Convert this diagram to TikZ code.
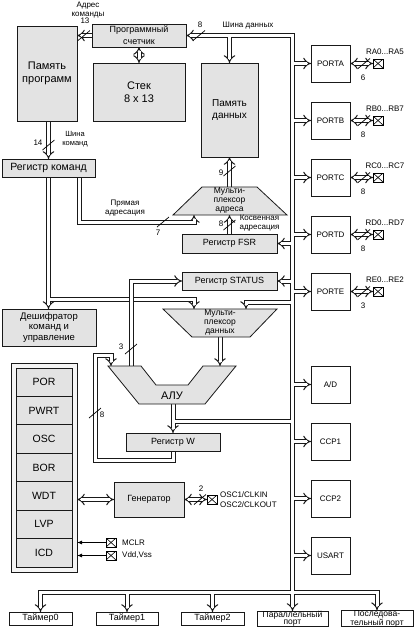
\documentclass[tikz,border=0pt]{standalone}
\usepackage{fontspec}
\setmainfont{Liberation Sans}
\usetikzlibrary{arrows.meta}
\pgfdeclarelayer{bg}
\pgfdeclarelayer{bus}
\pgfdeclarelayer{busw}
\pgfdeclarelayer{busover}
\pgfsetlayers{bg,bus,busw,busover,main}
\newcommand\fs[2]{\fontsize{#1}{#2}\selectfont}
\newcommand\tdots{...}
\newcommand\bx[7]{\node[#1, minimum width={(#5)-(#3)}, minimum height={(#6)-(#4)}] (#2) at ({((#3)+(#5))/2},{((#4)+(#6))/2}) {#7};}
\newcommand\bus[3][]{%
  \begin{pgfonlayer}{bus}\draw[busline,#1] #3;\end{pgfonlayer}%
  \begin{pgfonlayer}{busw}\draw[buswhite,#2] #3;\end{pgfonlayer}}
\newcommand\busover[2][]{\begin{pgfonlayer}{busover}\draw[busline,#1] #2;\end{pgfonlayer}}
\tikzset{
  boxs/.style={draw=black!90, line width=0.8pt, inner sep=0pt, outer sep=0pt, align=center},
  gboxs/.style={boxs, fill=black!11},
  wboxs/.style={boxs, fill=white},
  gshape/.style={draw=black!90, line width=0.8pt, fill=black!11},
  busline/.style={double=white, double distance=3pt, line width=1pt, draw=black!90},
  buswhite/.style={draw=white, line width=3pt},
  we/.style={shorten >=3.8pt}, ws/.style={shorten <=3.8pt}, wb/.style={we,ws},
  arrE/.style={-{Implies}}, arrB/.style={{Implies}-{Implies}},
  lbl/.style={inner sep=0pt, font=\fs{8}{9}, align=center},
  pinbox/.style={draw, line width=0.7pt, minimum width=10pt, minimum height=9pt, inner sep=0pt, outer sep=0pt, fill=white,
    path picture={\draw[line width=0.6pt] (path picture bounding box.north west) -- (path picture bounding box.south east) (path picture bounding box.south west) -- (path picture bounding box.north east);}},
  bslash/.pic={\draw[line width=0.7pt] (-6,5) -- (6,-5);},
}
\begin{document}
\begin{tikzpicture}[x=1pt,y=-1pt]
\useasboundingbox (0,0) rectangle (416,632);
\begin{pgfonlayer}{bg}\fill[white] (0,0) rectangle (416,632);\end{pgfonlayer}

% boxes
\bx{gboxs,font=\fs{11}{13}}{pm}{17}{26}{77}{121}{Память\\программ}
\bx{gboxs,font=\fs{9}{12}}{pc}{92}{24}{186}{47}{Программный\\счетчик}
\bx{gboxs,font=\fs{11}{13}}{stack}{93}{63}{185}{121}{Стек\\8 x 13}
\bx{gboxs,font=\fs{10}{12}}{dm}{201}{63}{258}{157}{Память\\данных}
\bx{gboxs,font=\fs{10.5}{12}}{rk}{2}{159}{95}{177}{Регистр команд}
\bx{gboxs,font=\fs{9}{11}}{fsr}{182}{234}{277}{253}{Регистр FSR}
\bx{gboxs,font=\fs{9}{11}}{status}{182}{272}{277}{290}{Регистр STATUS}
\bx{gboxs,font=\fs{9.5}{10.5}}{dec}{2}{309}{96}{346}{Дешифратор\\команд и\\управление}
\bx{gboxs,font=\fs{9}{11}}{w}{126}{433}{220}{451}{Регистр W}
\bx{gboxs,font=\fs{9}{11}}{gen}{114}{482}{184}{517}{Генератор}

% shapes
\draw[gshape] (202,187) -- (257,187) -- (287,215) -- (173,215) -- cycle;
\node[lbl,font=\fs{8.5}{9.3}] (muxa) at (229.5,200.5) {Мульти-\\плексор\\адреса};
\draw[gshape] (163,309) -- (277,309) -- (250,337) -- (192,337) -- cycle;
\node[lbl,font=\fs{8.5}{9.3}] (muxd) at (220,322.5) {Мульти-\\плексор\\данных};
\draw[gshape] (108,366) -- (141,366) -- (156,385) -- (188,385) -- (203,366) -- (236,366) -- (205,404) -- (139,404) -- cycle;
\node[lbl,font=\fs{11}{12}] (alu) at (172,396) {АЛУ};

% left block
\bx{boxs,fill=black!4}{blk}{11}{363}{77}{572}{}
\foreach \t [count=\i from 0] in {POR,PWRT,OSC,BOR,WDT,LVP,ICD}
  {\bx{gboxs,font=\fs{10.5}{12}}{b\t}{16}{368+\i*28.43}{72}{368+(\i+1)*28.43}{\t}}

% peripherals
\foreach \n/\t/\ya/\pl/\num in {pa/PORTA/45/RA0\tdots RA5/6, pb/PORTB/102/RB0\tdots RB7/8, pcc/PORTC/159/RC0\tdots RC7/8, pd/PORTD/216/RD0\tdots RD7/8, pe/PORTE/273/RE0\tdots RE2/3}{
  \bx{wboxs,font=\fs{8}{9}}{\n}{311}{\ya}{350}{\ya+37}{\t}
  \node[pinbox] (\n-pin) at (378,\ya+18.5) {};
  \node[lbl] (\n-lab) at (385,\ya+7) {\pl};
  \node[lbl] (\n-num) at (363,\ya+32.5) {\num};
  \pic at (364,\ya+18.5) {bslash};
}
\bx{wboxs,font=\fs{8}{9}}{ad}{311}{366}{350}{403}{A/D}
\bx{wboxs,font=\fs{8}{9}}{ccp1}{311}{423}{350}{460}{CCP1}
\bx{wboxs,font=\fs{8}{9}}{ccp2}{311}{480}{350}{517}{CCP2}
\bx{wboxs,font=\fs{8}{9}}{usart}{311}{537}{350}{574}{USART}

% bottom
\bx{wboxs,font=\fs{9}{10}}{t0}{9}{612}{72}{625}{Таймер0}
\bx{wboxs,font=\fs{9}{10}}{t1}{96}{612}{158}{625}{Таймер1}
\bx{wboxs,font=\fs{9}{10}}{t2}{181}{612}{244}{625}{Таймер2}
\bx{wboxs,font=\fs{8.5}{7}}{par}{257}{612}{328}{625}{Параллельный\\порт}
\bx{wboxs,font=\fs{8.5}{7}}{ser}{341}{612}{413}{625}{Последова-\\тельный порт}

% pins
\node[pinbox] (oscpin) at (212,499.5) {};
\node[pinbox] (mclr) at (111,542.5) {};
\node[pinbox] (vdd) at (111,555.5) {};
\node[lbl,anchor=west] (osc1) at (220,494.5) {OSC1/CLKIN};
\node[lbl,anchor=west] (osc2) at (220,505) {OSC2/CLKOUT};
\node[lbl,anchor=west] (mclrl) at (122,542.5) {MCLR};
\node[lbl,anchor=west] (vddl) at (122,555.5) {Vdd,Vss};
\draw[-{Latex[length=5pt,width=4pt]}, line width=0.8pt] (mclr.west) -- (mclr.west -| blk.east);
\draw[-{Latex[length=5pt,width=4pt]}, line width=0.8pt] (vdd.west) -- (vdd.west -| blk.east);

% coordinates
\coordinate (tc) at (292.5,35.5);
\coordinate (maTop) at (229.5,187);
\coordinate (maBot) at (229.5,215);
\coordinate (maIn) at (194,215);
\coordinate (rkb2) at (79,177);
\coordinate (j1) at (48.5,299);
\coordinate (mdIn1) at (194,309);
\coordinate (tj302) at (292.5,302);
\coordinate (mdIn2) at (246,309);
\coordinate (mdOut) at (220,337);
\coordinate (aluIn2) at (220,366);
\coordinate (aluIn1) at (111,366);
\coordinate (aluIn3) at (131,366);
\coordinate (aluOut) at (173,404);
\coordinate (aj) at (173,421);
\coordinate (wl1) at (95,460);
\coordinate (wl2) at (95,355);
\coordinate (bb) at (292.5,592.5);

% buses
\bus[arrB]{wb}{(pc.east) -- (tc) -- (tc |- par.north)}
\bus[arrE]{we}{(dm.north |- tc) -- (dm.north)}
\bus[arrE]{we}{(pc.west) -- (pc.west -| pm.east)}
\bus[arrB]{wb}{(pc.south) -- (pc.south |- stack.north)}
\bus[arrE]{we}{(rk.north |- pm.south) -- (rk.north)}
\bus[arrE]{we}{(rk.south) -- (rk.south |- dec.north)}
\bus[arrE]{we}{(j1) -| (mdIn1)}
\bus[arrE]{we}{(rkb2) -- ++(0,45) -| (maIn)}
\bus[arrE]{we}{(maTop) -- (maTop |- dm.south)}
\bus[arrE]{we}{(fsr.north) -- (maBot)}
\bus[arrE]{we}{(fsr.east -| tc) -- (fsr.east)}
\bus[arrE]{we}{(status.east -| tc) -- (status.east)}
\busover[arrE]{(aluIn3) |- (status.west)}
\bus[arrE]{we}{(tj302) -| (mdIn2)}
\bus[arrE]{we}{(mdOut) -- (aluIn2)}
\bus[arrE]{we}{(aluOut) -- (w.north)}
\bus{}{(aj) -- (aj -| tc)}
\bus[arrE]{we}{(w.south) |- (wl1) -- (wl2) -| (aluIn1)}
\bus[arrB]{wb}{(t0.north) |- (bb) -| (ser.north)}
\bus[arrE]{we}{(t1.north |- bb) -- (t1.north)}
\bus[arrE]{we}{(t2.north |- bb) -- (t2.north)}
\bus[arrB]{wb}{(blk.east |- gen.west) -- (gen.west)}
\bus[arrB]{wb}{(gen.east) -- (oscpin.west)}
\foreach \n in {pa,pb,pcc,pd,pe,ad,ccp1,ccp2,usart}{
  \bus[arrE]{we}{(\n.west -| tc) -- (\n.west)}
}
\foreach \n in {pa,pb,pcc,pd,pe}{
  \bus[arrB]{wb}{(\n.east) -- (\n-pin.west)}
}

% labels and slashes
\node[lbl] (adrl) at (88,10.5) {Адрес\\команды};
\node[lbl] (n13) at (85,21) {13};
\pic at (84,35.5) {bslash};
\node[lbl] (n8a) at (200,25) {8};
\pic at (199,35.5) {bslash};
\node[lbl] (dbl) at (248,26) {Шина данных};
\node[lbl] (n14) at (38,143) {14};
\pic at (48.5,145) {bslash};
\node[lbl,font=\fs{7.5}{9.5}] (kbl) at (75,139) {Шина\\команд};
\node[lbl] (pal) at (125,208.5) {Прямая\\адресация};
\node[lbl] (n7) at (158,233) {7};
\pic at (163,222) {bslash};
\node[lbl] (n9) at (221,173) {9};
\pic at (229.5,171) {bslash};
\node[lbl] (n8b) at (221,224) {8};
\pic at (229.5,225) {bslash};
\node[lbl] (kal) at (259.5,223.5) {Косвенная\\адресация};
\node[lbl] (n3) at (121,347) {3};
\pic at (131,349) {bslash};
\node[lbl] (n8c) at (102,415) {8};
\pic at (95,413) {bslash};
\node[lbl] (n2) at (201,489) {2};
\pic at (200,499.5) {bslash};
\end{tikzpicture}
\end{document}
